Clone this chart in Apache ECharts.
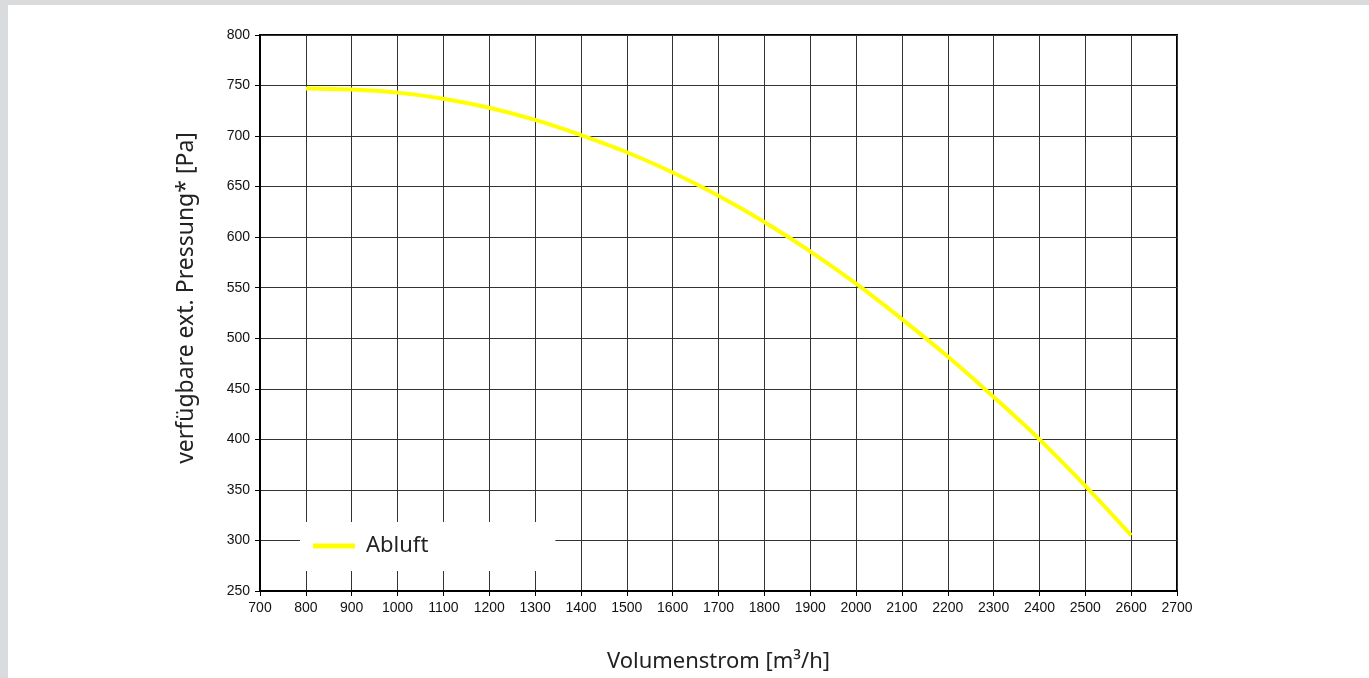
<!DOCTYPE html>
<html>
<head>
<meta charset="utf-8">
<script src="https://cdn.jsdelivr.net/npm/echarts@6/dist/echarts.min.js"></script>
<style>
html,body{margin:0;padding:0;background:#dadbdd;width:1369px;height:678px;overflow:hidden;}
#chart{position:absolute;left:8px;top:5px;width:1361px;height:673px;background:#fff;}
</style>
</head>
<body>
<div id="chart"></div>
<script>
const volumeFlow = [800, 900, 1000, 1100, 1200, 1300, 1400, 1500, 1600, 1700, 1800, 1900, 2000, 2100, 2200, 2300, 2400, 2500, 2600];
const abluft = [747, 746, 743, 737, 728, 716, 701, 684, 664, 641, 615, 586, 554, 519, 482, 442, 400, 354, 305];
const seriesName = 'Abluft';
const xAxisTitle = 'Volumenstrom [m³/h]';
const yAxisTitle = 'verfügbare ext. Pressung* [Pa]';

const chart = echarts.init(document.getElementById('chart'));
chart.setOption({
  animation: false,
  grid: {left: 252, top: 30, width: 917, height: 557, show: true, borderColor: '#000', borderWidth: 2, backgroundColor: 'transparent'},
  legend: {
    data: [{name: seriesName, icon: 'rect'}],
    left: 292, top: 517,
    backgroundColor: '#fff',
    padding: [13, 127, 14, 13],
    itemWidth: 42, itemHeight: 5, itemGap: 10,
    textStyle: {fontFamily: 'Noto Sans', fontSize: 22, color: '#222', lineHeight: 22, padding: [0, 0, 0, 6]}
  },
  xAxis: {
    type: 'value', min: 700, max: 2700, interval: 100,
    name: xAxisTitle, nameLocation: 'middle', nameGap: 60,
    nameTextStyle: {fontFamily: 'Noto Sans', fontSize: 22, color: '#222'},
    axisLine: {show: true, lineStyle: {color: '#000', width: 2}},
    axisTick: {show: true, length: 5, lineStyle: {color: '#000', width: 1}},
    axisLabel: {fontFamily: 'Liberation Sans', fontSize: 14, color: '#111', margin: 10, formatter: v => String(v)},
    splitLine: {show: true, lineStyle: {color: '#333', width: 1}}
  },
  yAxis: {
    type: 'value', min: 250, max: 800, interval: 50,
    name: yAxisTitle, nameLocation: 'middle', nameGap: 62, nameRotate: 90,
    nameTextStyle: {fontFamily: 'Noto Sans', fontSize: 23, color: '#222', padding: [0, 0, 0, 30]},
    axisLine: {show: true, lineStyle: {color: '#000', width: 2}},
    axisTick: {show: true, length: 5, lineStyle: {color: '#000', width: 1}},
    axisLabel: {fontFamily: 'Liberation Sans', fontSize: 14, color: '#111', margin: 10, formatter: v => String(v)},
    splitLine: {show: true, lineStyle: {color: '#333', width: 1}}
  },
  series: [{
    name: seriesName,
    type: 'line',
    data: volumeFlow.map((x, i) => [x, abluft[i]]),
    smooth: 0.4,
    showSymbol: false,
    symbol: 'none',
    itemStyle: {color: '#ffff00'},
    lineStyle: {color: '#ffff00', width: 4},
    z: 3
  }]
});
</script>
</body>
</html>
